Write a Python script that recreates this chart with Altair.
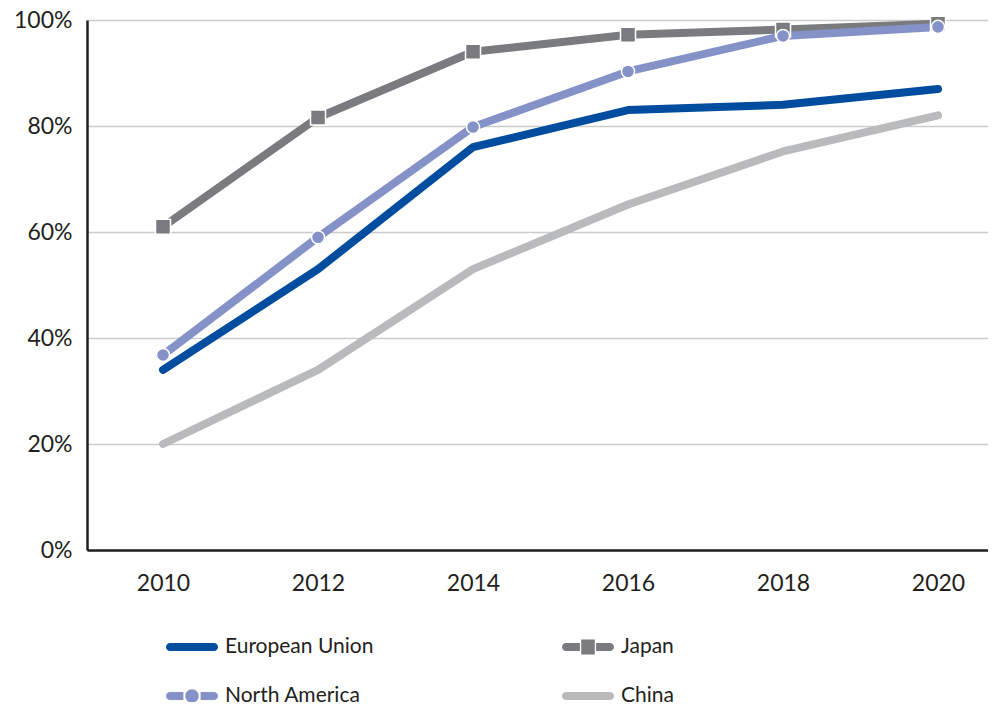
import altair as alt
import pandas as pd

years = [2010, 2012, 2014, 2016, 2018, 2020]
series_names = ["European Union", "Japan", "North America", "China"]
eu = [34, 53, 76, 83, 84, 87]
japan = [61, 81.6, 94, 97.2, 98.2, 99.3]
north_america = [36.8, 59, 79.8, 90.3, 97, 98.7]
china = [20, 34, 53, 65.2, 75.2, 82]
y_ticks = [0, 20, 40, 60, 80, 100]
colors = ["#004c9e", "#7a7b7e", "#8592c8", "#b9babc"]

values = {"European Union": eu, "Japan": japan, "North America": north_america, "China": china}
rows = []
for name in series_names:
    for yr, v in zip(years, values[name]):
        rows.append({"year": yr, "value": v, "series": name})
df = pd.DataFrame(rows)

FONT = "Lato"
TXT = "#231f20"

# legend symbol paths (unit box = 52px wide)
line_path = ("M-0.846,-0.154 H0.846 A0.154,0.154 0 0 1 0.846,0.154 H-0.846 "
             "A0.154,0.154 0 0 1 -0.846,-0.154 Z")
sq_path = ("M-0.846,-0.154 H-0.31 V0.154 H-0.846 A0.154,0.154 0 0 1 -0.846,-0.154 Z "
           "M-0.26,-0.29 H0.26 V0.29 H-0.26 Z "
           "M0.31,-0.154 H0.846 A0.154,0.154 0 0 1 0.846,0.154 H0.31 Z")
ci_path = ("M-0.846,-0.154 H-0.33 V0.154 H-0.846 A0.154,0.154 0 0 1 -0.846,-0.154 Z "
           "M-0.26,0 A0.26,0.26 0 1 0 0.26,0 A0.26,0.26 0 1 0 -0.26,0 Z "
           "M0.33,-0.154 H0.846 A0.154,0.154 0 0 1 0.846,0.154 H0.33 Z")
shape_range = [line_path, sq_path, ci_path, line_path]

xscale = alt.Scale(domain=[2009.019, 2020.645], nice=False, zero=False)
yscale = alt.Scale(domain=[0, 100], nice=False)

x_enc = alt.X("year:Q", scale=xscale,
              axis=alt.Axis(values=years, format="d", title=None, grid=False, ticks=False,
                            labelFontSize=23, labelFont=FONT, labelColor=TXT,
                            domainColor=TXT, domainWidth=2.5, labelPadding=22))
y_enc = alt.Y("value:Q", scale=yscale,
              axis=alt.Axis(values=y_ticks, labelExpr="datum.value + '%'", title=None,
                            ticks=False, labelFontSize=23, labelFont=FONT, labelColor=TXT,
                            domainColor=TXT, domainWidth=2.5, gridColor="#cccccc",
                            gridWidth=1.5, labelPadding=15))

legend = alt.Legend(title=None, orient="none", legendX=79, legendY=601, columns=2,
                    direction="horizontal",
                    symbolSize=2704, labelFontSize=21, labelFont=FONT, labelColor=TXT,
                    labelOffset=7, labelLimit=400, columnPadding=188, rowPadding=13,
                    symbolStrokeWidth=0, symbolOpacity=1)

stroke_scale = alt.Scale(domain=series_names, range=colors)

base = alt.Chart(df)

def line_layer(name):
    return base.transform_filter(alt.datum.series == name).mark_line(
        strokeWidth=8, strokeCap="round", strokeJoin="round"
    ).encode(
        x=x_enc, y=y_enc,
        stroke=alt.Stroke("series:N", scale=stroke_scale, legend=None),
        order=alt.Order("year:Q"),
    )

lines_layers = [line_layer(s) for s in ["China", "European Union", "Japan", "North America"]]

squares = base.transform_filter(alt.datum.series == "Japan").mark_point(
    shape="square", filled=True, size=225, stroke="white", strokeWidth=1.5, opacity=1,
    fill=colors[1]
).encode(x=x_enc, y=y_enc)

circles = base.transform_filter(alt.datum.series == "North America").mark_point(
    shape="circle", filled=True, size=170, stroke="white", strokeWidth=1.5, opacity=1,
    fill=colors[2]
).encode(x=x_enc, y=y_enc)

legend_layer = base.mark_point(filled=True, opacity=0, size=1).encode(
    x=x_enc, y=y_enc,
    fill=alt.Fill("series:N", scale=alt.Scale(domain=series_names, range=colors), legend=legend),
    shape=alt.Shape("series:N", scale=alt.Scale(domain=series_names, range=shape_range), legend=legend),
)

chart = alt.layer(legend_layer, *lines_layers, squares, circles).properties(
    width=901, height=530,
    autosize=alt.AutoSizeParams(type="none"),
    padding={"left": 79, "top": 12, "right": 0, "bottom": 152},
).configure_view(stroke=None)

chart.save("out.html", embed_options={"renderer": "svg", "actions": False})
